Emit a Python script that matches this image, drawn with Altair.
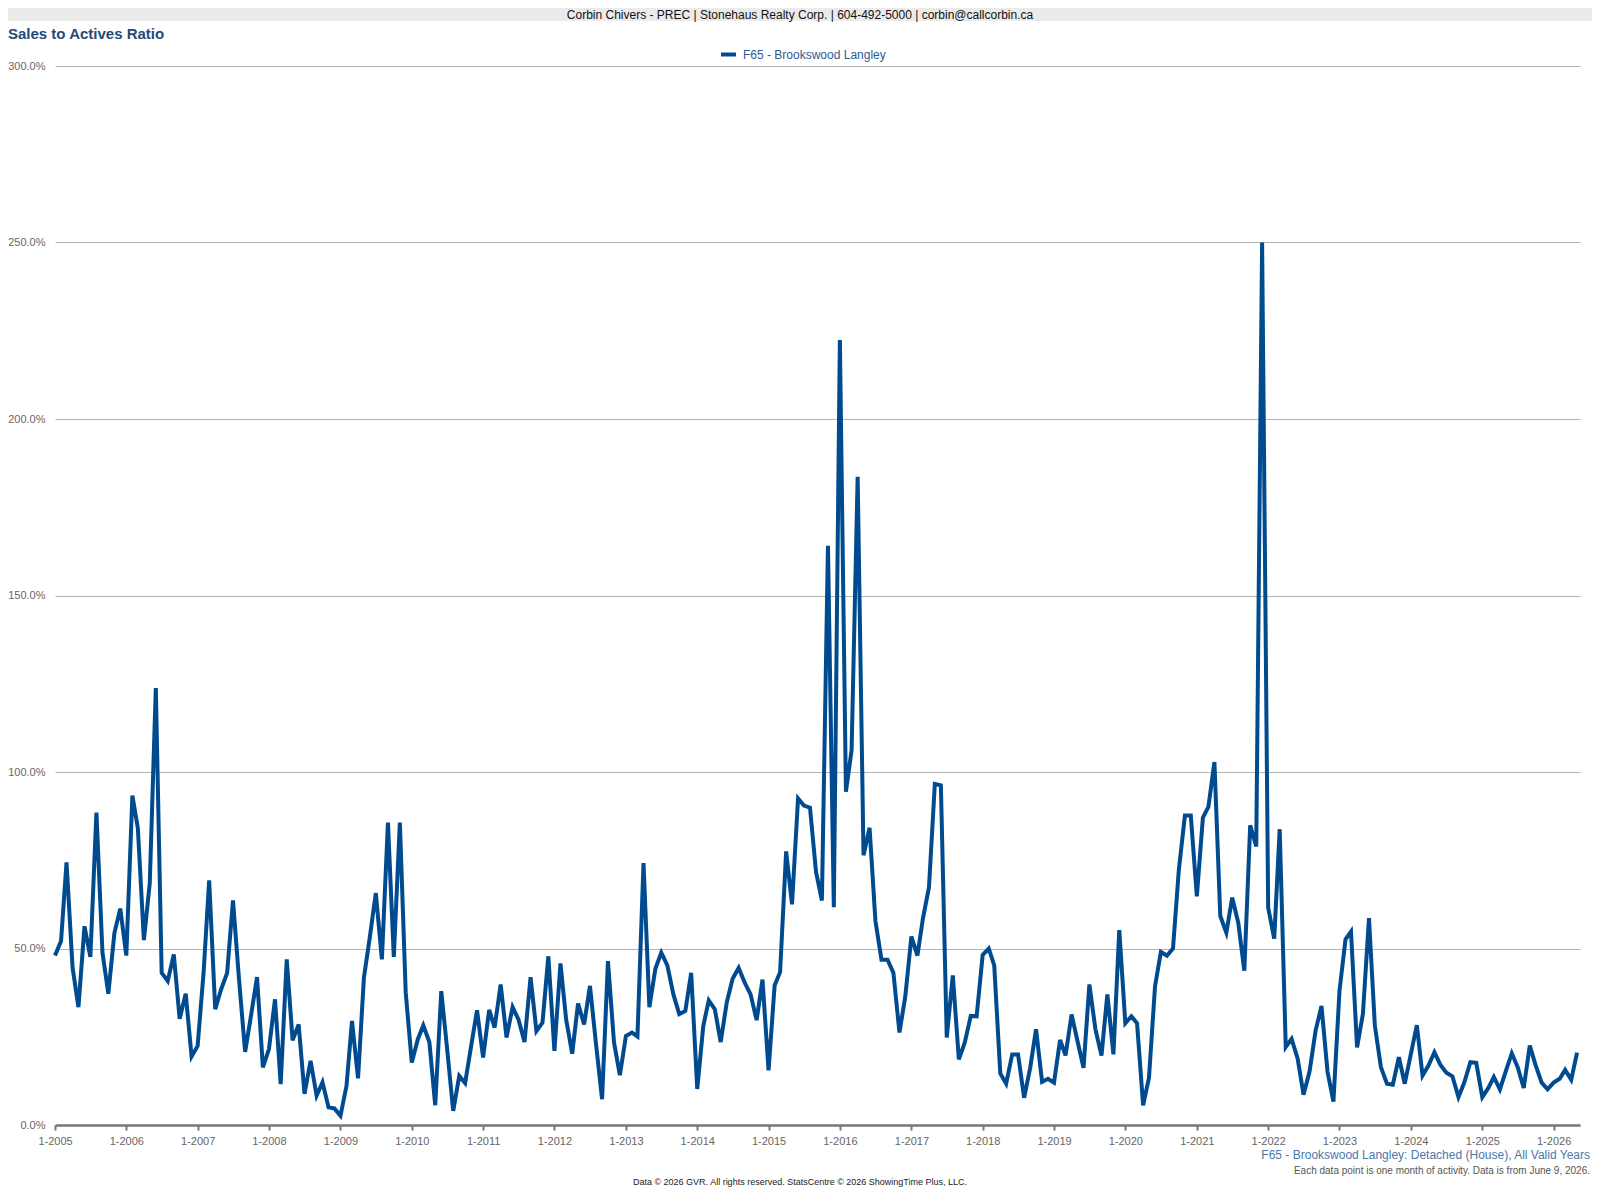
import altair as alt
import pandas as pd

SERIES = "F65 - Brookswood Langley"

# Monthly sales-to-actives ratio (%), Jan..Dec of each year
r2005 = [48.0, 52.1, 74.4, 44.5, 33.4, 56.3, 47.6, 88.5, 48.8, 37.2, 54.4, 61.3]
r2006 = [48.0, 93.3, 84.1, 52.4, 68.5, 123.8, 43.1, 40.8, 48.3, 30.1, 37.2, 19.4]
r2007 = [22.4, 43.6, 69.3, 32.8, 38.4, 43.1, 63.6, 41.2, 20.7, 30.9, 41.9, 16.3]
r2008 = [21.5, 35.6, 11.6, 46.9, 24.0, 28.5, 8.8, 18.2, 8.3, 12.1, 5.0, 4.7]
r2009 = [2.6, 11.1, 29.5, 13.2, 41.7, 53.5, 65.7, 46.9, 85.7, 47.6, 85.7, 37.5]
r2010 = [17.7, 24.3, 28.2, 23.5, 5.6, 37.9, 21.5, 4.0, 13.9, 11.9, 22.4, 32.5]
r2011 = [19.1, 32.6, 27.6, 39.8, 24.8, 33.4, 29.9, 23.5, 41.9, 26.6, 29.0, 47.8]
r2012 = [21.0, 45.8, 29.9, 20.2, 34.4, 28.5, 39.4, 22.9, 7.3, 46.4, 23.4, 14.1]
r2013 = [25.2, 26.2, 25.1, 74.2, 33.4, 44.3, 48.8, 45.2, 37.0, 31.4, 32.3, 43.1]
r2014 = [10.2, 28.1, 35.3, 32.8, 23.5, 34.7, 41.4, 44.5, 40.3, 37.0, 29.7, 41.2]
r2015 = [15.5, 39.5, 43.3, 77.5, 62.5, 92.5, 90.5, 89.9, 71.7, 63.6, 164.1, 61.7]
r2016 = [222.4, 94.4, 106.2, 183.6, 76.4, 84.2, 57.8, 46.8, 46.8, 43.1, 26.2, 36.5]
r2017 = [53.4, 48.0, 58.5, 67.3, 96.6, 96.2, 24.8, 42.4, 18.6, 23.3, 30.9, 30.8]
r2018 = [48.2, 50.0, 45.2, 14.6, 11.7, 20.0, 20.0, 7.7, 16.2, 27.1, 12.2, 13.1]
r2019 = [12.0, 24.1, 19.7, 31.3, 23.8, 16.2, 39.8, 27.1, 19.7, 37.0, 20.0, 55.2]
r2020 = [28.8, 30.8, 28.8, 5.6, 13.4, 39.3, 49.0, 48.0, 50.0, 72.4, 87.7, 87.7]
r2021 = [64.8, 87.1, 90.1, 102.8, 59.2, 54.5, 64.4, 57.3, 43.7, 84.9, 78.9, 250.0]
r2022 = [61.6, 52.8, 83.8, 22.1, 24.4, 18.8, 8.6, 15.2, 26.8, 33.7, 15.0, 6.6]
r2023 = [38.0, 52.6, 54.8, 22.0, 31.5, 58.6, 28.2, 16.4, 11.7, 11.4, 19.2, 11.7]
r2024 = [20.0, 28.3, 14.0, 16.9, 20.6, 17.0, 14.8, 13.8, 7.9, 12.1, 17.8, 17.6]
r2025 = [7.9, 10.5, 13.6, 10.1, 15.2, 20.3, 16.4, 10.5, 22.5, 16.9, 12.0, 10.1]
r2026 = [12.0, 13.1, 15.6, 12.8, 20.5]

years = list(range(2005, 2027))
yearly = [r2005, r2006, r2007, r2008, r2009, r2010, r2011, r2012, r2013, r2014, r2015,
          r2016, r2017, r2018, r2019, r2020, r2021, r2022, r2023, r2024, r2025, r2026]

y_ticks = [0, 50, 100, 150, 200, 250, 300]

header_text = "Corbin Chivers - PREC | Stonehaus Realty Corp. | 604-492-5000 | corbin@callcorbin.ca"
title_text = "Sales to Actives Ratio"
caption_text = "F65 - Brookswood Langley: Detached (House), All Valid Years"
note_text = "Each data point is one month of activity. Data is from June 9, 2026."
footer_text = "Data \u00a9 2026 GVR. All rights reserved. StatsCentre \u00a9 2026 ShowingTime Plus, LLC."

rows = []
for yr, vals in zip(years, yearly):
    for i, v in enumerate(vals):
        rows.append({"date": f"{yr}-{i + 1:02d}-01", "ratio": v, "series": SERIES})
df = pd.DataFrame(rows)


def ms(s):
    return int(pd.Timestamp(s, tz="UTC").value // 10**6)


x_tick_values = [ms(f"{yr}-01-01") for yr in years]
x_domain = [ms("2005-01-01"), ms("2026-05-16")]

W, H = 1525, 1059
PAD = {"left": 47, "top": 58, "right": 12, "bottom": 62}
FONT = "Liberation Sans"

line = alt.Chart(df).mark_line(strokeWidth=4).encode(
    x=alt.X(
        "date:T",
        scale=alt.Scale(type="utc", domain=x_domain, nice=False),
        axis=alt.Axis(
            values=x_tick_values,
            labelExpr="utcFormat(datum.value, '%-m-%Y')",
            title=None,
            grid=False,
            domainColor="#777777",
            domainWidth=2.5,
            tickColor="#777777",
            tickWidth=2,
            tickSize=5,
            labelColor="#666666",
            labelFontSize=11,
            labelPadding=5,
            labelFont=FONT,
            labelFlush=False,
            labelOverlap=False,
        ),
    ),
    y=alt.Y(
        "ratio:Q",
        scale=alt.Scale(domain=[0, 300], nice=False),
        axis=alt.Axis(
            values=y_ticks,
            labelExpr="format(datum.value, '.1f') + '%'",
            title=None,
            grid=True,
            gridColor="#b4b4b4",
            gridWidth=1,
            domain=False,
            ticks=False,
            labelColor="#666666",
            labelFontSize=11,
            labelPadding=10,
            labelFont=FONT,
        ),
    ),
    color=alt.Color(
        "series:N",
        scale=alt.Scale(domain=[SERIES], range=["#004a8f"]),
        legend=alt.Legend(
            orient="none",
            legendX=664,
            legendY=-21,
            title=None,
            symbolType="stroke",
            symbolStrokeWidth=4,
            symbolSize=225,
            labelFontSize=12,
            labelColor="#2e5a94",
            labelFont=FONT,
            labelOffset=5,
            padding=0,
        ),
    ),
)


def text_layer(txt, x, y, size, color, align="center", weight="normal"):
    return alt.Chart(pd.DataFrame({"t": [txt]})).mark_text(
        fontSize=size, color=color, align=align, baseline="middle",
        font=FONT, fontWeight=weight,
    ).encode(text="t:N", x=alt.value(x), y=alt.value(y))


band = alt.Chart(pd.DataFrame({"k": [1]})).mark_rect(color="#ebebeb").encode(
    x=alt.value(-PAD["left"]), x2=alt.value(W + PAD["right"]),
    y=alt.value(-PAD["top"]), y2=alt.value(-45),
)

chart = alt.layer(
    band,
    text_layer(header_text, 745, -51.5, 12, "#111111"),
    text_layer(title_text, -47, -32, 15, "#244a78", align="left", weight="bold"),
    line,
    text_layer(caption_text, 1535, 1089, 12, "#4d77aa", align="right"),
    text_layer(note_text, 1535, 1105, 10, "#555555", align="right"),
    text_layer(footer_text, 745, 1116, 9, "#222222"),
).properties(
    width=W,
    height=H,
    padding=PAD,
    autosize=alt.AutoSizeParams(type="none"),
).configure(font=FONT).configure_view(stroke=None, strokeWidth=0)

chart.save("out.html", embed_options={"renderer": "svg", "actions": False})
